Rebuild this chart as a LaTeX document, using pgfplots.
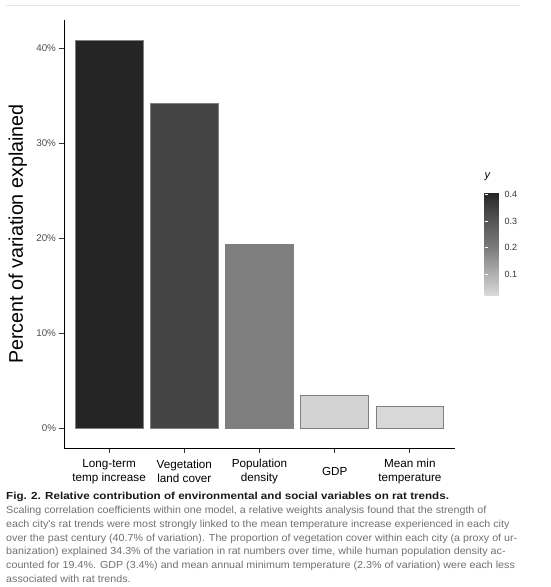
\documentclass[border=0pt]{standalone}
\usepackage{fontspec}
\setmainfont{Liberation Sans}
\newfontfamily\capfont{Liberation Sans}[FakeStretch=1.05]
\newfontfamily\capboldfont{Liberation Sans}[FakeStretch=1.14]
\usepackage{pgfplots}
\pgfplotsset{compat=1.18}

\definecolor{barA}{RGB}{37,37,37}
\definecolor{barB}{RGB}{68,68,68}
\definecolor{barC}{RGB}{127,127,127}
\definecolor{barD}{RGB}{211,211,211}
\definecolor{barE}{RGB}{216,216,216}
\definecolor{barline}{RGB}{128,128,128}
\definecolor{ticktext}{RGB}{77,77,77}
\definecolor{captext}{RGB}{112,112,112}
\definecolor{rulegray}{RGB}{229,229,229}

\begin{document}
\begin{tikzpicture}
  % page frame in pixels of the reference (550 x 587)
  \path (0,0) rectangle (550pt,-587pt);
  \draw[rulegray, line width=1pt] (6pt,-5pt) -- (520pt,-5pt);

  \begin{axis}[
      at={(64pt,-448pt)}, anchor=south west,
      scale only axis, width=391pt, height=428pt,
      xmin=-0.6, xmax=4.6, ymin=-2.05, ymax=43.0,
      axis x line*=bottom, axis y line*=left,
      axis line style={line width=0.9pt, black},
      tick align=outside, major tick length=4.5pt,
      tick style={line width=0.8pt, black!80},
      /pgf/number format/assume math mode=true,
      xtick={0,1,2,3,4},
      xticklabels={{Long-term\\temp increase},{Vegetation\\land cover},
        {Population\\density},{GDP},{Mean min\\temperature}},
      xticklabel style={align=center, anchor=center, yshift=-19pt, inner sep=0pt,
        font=\fontsize{11.7}{14.5}\selectfont},
      ytick={0,10,20,30,40},
      yticklabels={0\%,10\%,20\%,30\%,40\%},
      yticklabel style={font=\fontsize{9.8}{11}\selectfont, color=ticktext},
      ylabel={Percent of variation explained},
      ylabel style={at={(axis description cs:-0.1049,0.5)}, anchor=base,
        inner sep=0pt, font=\fontsize{19.7}{23}\selectfont},
      colormap={ratgray}{rgb255(0pt)=(217,217,217) rgb255(44.3pt)=(127,127,127)
        rgb255(82.6pt)=(68,68,68) rgb255(100pt)=(37,37,37)},
      point meta min=0.023, point meta max=0.409,
      colorbar,
      colorbar style={
        at={(parent axis.south east)}, anchor=south west,
        xshift=21pt, yshift=153pt,
        scale only axis, width=20pt, height=103pt,
        ytick={0.1,0.2,0.3,0.4},
        yticklabel pos=right,
        ytick pos=both,
        ytick align=inside,
        major tick length=3.5pt,
        tick style={draw=white, line width=0.6pt},
        axis line style={draw=none},
        yticklabel style={font=\fontsize{9}{10}\selectfont, color=black!80,
          inner xsep=0pt, xshift=0pt},
        /pgf/number format/assume math mode=true,
        title={\textit{y}},
        title style={at={(0,1)}, anchor=base west, inner sep=0pt, yshift=8pt,
          font=\fontsize{11}{13}\selectfont},
      },
    ]
    \addplot[ybar, bar width=0.9, bar shift=0pt, fill=barA, draw=barline, line width=0.8pt]
      coordinates {(0,40.9)};
    \addplot[ybar, bar width=0.9, bar shift=0pt, fill=barB, draw=barline, line width=0.8pt]
      coordinates {(1,34.2)};
    \addplot[ybar, bar width=0.9, bar shift=0pt, fill=barC, draw=barline, line width=0.8pt]
      coordinates {(2,19.4)};
    \addplot[ybar, bar width=0.9, bar shift=0pt, fill=barD, draw=barline, line width=0.8pt]
      coordinates {(3,3.45)};
    \addplot[ybar, bar width=0.9, bar shift=0pt, fill=barE, draw=barline, line width=0.8pt]
      coordinates {(4,2.35)};
  \end{axis}

  % caption
  \begin{scope}[every node/.style={anchor=base west, inner sep=0pt}]
    \node[font=\capboldfont\bfseries\fontsize{10.2}{13.8}\selectfont, black!90] at (6pt,-499.5pt)
      {Fig. 2. Relative contribution of environmental and social variables on rat trends.};
    \begin{scope}[every node/.append style={font=\capfont\fontsize{10.2}{13.8}\selectfont, captext}]
      \node at (6pt,-513.5pt) {Scaling correlation coefficients within one model, a relative weights analysis found that the strength of};
      \node at (6pt,-527.3pt) {each city's rat trends were most strongly linked to the mean temperature increase experienced in each city};
      \node at (6pt,-541.1pt) {over the past century (40.7\% of variation). The proportion of vegetation cover within each city (a proxy of ur-};
      \node at (6pt,-554.9pt) {banization) explained 34.3\% of the variation in rat numbers over time, while human population density ac-};
      \node at (6pt,-568.7pt) {counted for 19.4\%. GDP (3.4\%) and mean annual minimum temperature (2.3\% of variation) were each less};
      \node at (6pt,-582.5pt) {associated with rat trends.};
    \end{scope}
  \end{scope}
\end{tikzpicture}
\end{document}
